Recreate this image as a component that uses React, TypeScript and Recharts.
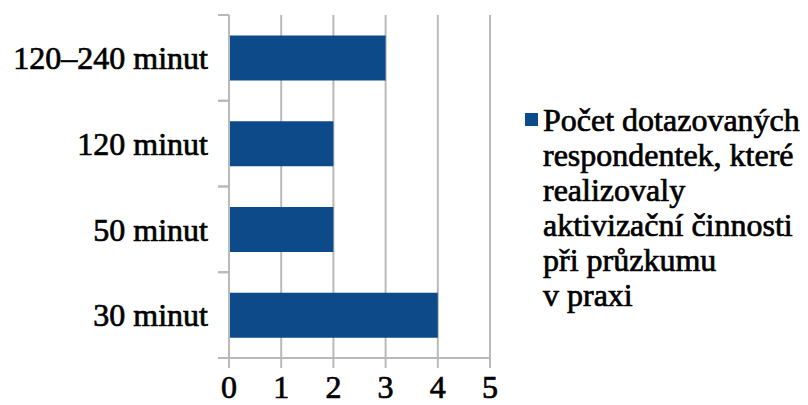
import React from "react";
import { BarChart, Bar, XAxis, YAxis, CartesianGrid, Legend } from "recharts";

const categories = ["120–240 minut", "120 minut", "50 minut", "30 minut"];
const values = [3, 2, 2, 4];
const xTicks = [0, 1, 2, 3, 4, 5];
const seriesName =
  "Počet dotazovaných respondentek, které realizovaly aktivizační činnosti při průzkumu v praxi";
const legendLines = [
  "Počet dotazovaných",
  "respondentek, které",
  "realizovaly",
  "aktivizační činnosti",
  "při průzkumu",
  "v praxi",
];

const data = categories.map((c, i) => ({ name: c, value: values[i] }));

const BAR = "#0d4a8a";
const GRID = "#b9b9b9";
const FONT = "Liberation Serif, Tinos, DejaVu Serif, serif";
const FS = 32;
const TICK_SIZE = 11;
const TICK_MARGIN = 10;

// y labels plus the short boundary ticks between categories (Excel style)
const YTick = (props: any) => {
  const { x, y, payload } = props;
  const half = payload.offset || 0;
  const x1 = x + TICK_MARGIN;
  const x2 = x1 + TICK_SIZE;
  return (
    <g>
      <line x1={x1} x2={x2} y1={y - half} y2={y - half} stroke={GRID} strokeWidth={2} />
      <line x1={x1} x2={x2} y1={y + half} y2={y + half} stroke={GRID} strokeWidth={2} />
      <text
        x={x}
        y={y}
        dy="0.35em"
        textAnchor="end"
        style={{ fontFamily: FONT, fontSize: FS }}
        fill="#000"
        stroke="#000"
        strokeWidth={0.7}
      >
        {payload.value}
      </text>
    </g>
  );
};

const LegendBox = () => (
  <div
    style={{
      position: "relative",
      fontFamily: FONT,
      fontSize: FS,
      lineHeight: "35px",
      color: "#000",
      WebkitTextStroke: "0.7px #000",
    }}
  >
    <div style={{ position: "absolute", left: 3, top: 10, width: 13, height: 13, background: BAR }} />
    <div style={{ marginLeft: 21, whiteSpace: "nowrap" }}>
      {legendLines.map((l, i) => (
        <div key={i}>{l}</div>
      ))}
    </div>
  </div>
);

const App: React.FC = () => {
  return (
    <div style={{ position: "absolute", left: 0, top: 0, background: "#fff", fontFamily: FONT }}>
      <BarChart
        width={808}
        height={405}
        data={data}
        layout="vertical"
        margin={{ top: 15, right: 318, left: 0, bottom: 0 }}
        barCategoryGap="24%"
        style={{ fontFamily: FONT }}
      >
        <CartesianGrid horizontal={false} stroke={GRID} strokeWidth={2} />
        <XAxis
          type="number"
          domain={[0, 5]}
          ticks={xTicks}
          height={47}
          axisLine={{ stroke: GRID, strokeWidth: 2 }}
          tickLine={{ stroke: GRID, strokeWidth: 2 }}
          tickSize={10}
          tickMargin={7}
          tick={{ fontSize: FS, fontFamily: FONT, fill: "#000", stroke: "#000", strokeWidth: 0.7 }}
        />
        <YAxis
          type="category"
          dataKey="name"
          width={229}
          axisLine={{ stroke: GRID, strokeWidth: 2 }}
          tickLine={false}
          tickSize={TICK_SIZE}
          tickMargin={TICK_MARGIN}
          tick={<YTick />}
          interval={0}
        />
        <Legend
          layout="vertical"
          verticalAlign="middle"
          align="center"
          wrapperStyle={{ left: 522, top: 103, width: 286 }}
          content={<LegendBox />}
        />
        <Bar dataKey="value" name={seriesName} fill={BAR} isAnimationActive={false} />
      </BarChart>
    </div>
  );
};

export default App;
